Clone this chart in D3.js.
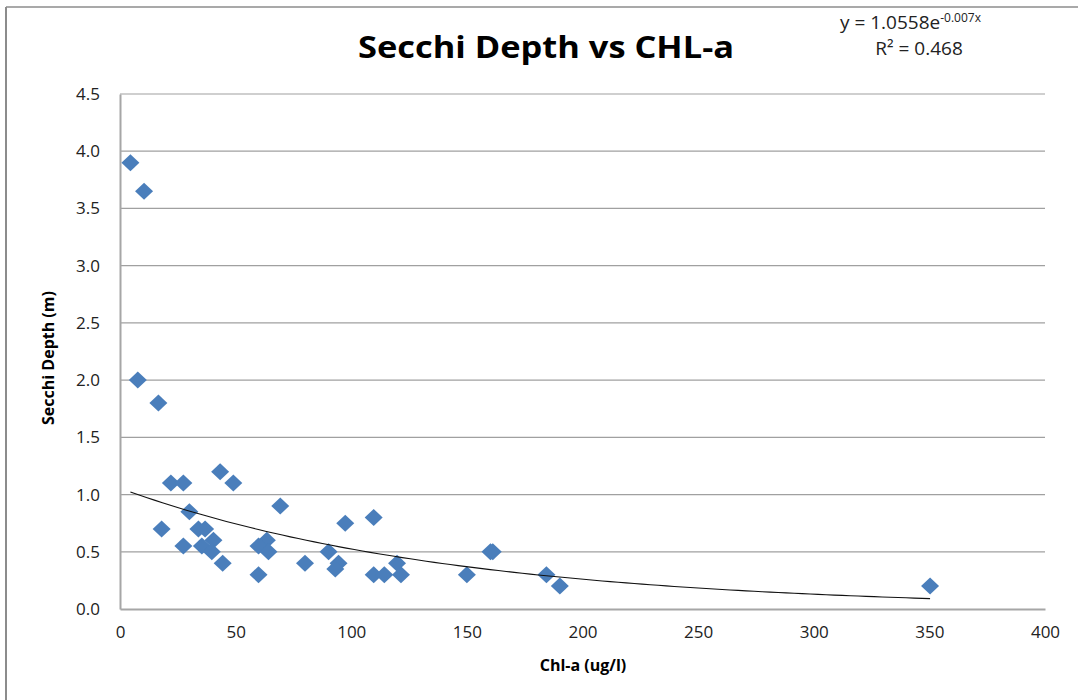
<!DOCTYPE html>
<html>
<head>
<meta charset="utf-8">
<script src="https://cdn.jsdelivr.net/npm/d3@7/dist/d3.min.js"></script>
<style>
  html, body { margin: 0; padding: 0; background: #fff; }
  svg { display: block; }
  text { font-family: "Open Sans", "DejaVu Sans", sans-serif; }
</style>
</head>
<body>
<svg id="chart" width="1078" height="700"></svg>
<script>
// ---- Data ----
const chlA = [4.5, 10.4, 7.7, 16.6, 22, 27.4, 43.3, 49, 30, 18, 33.9, 36.8, 27.4, 35.4, 40.4, 39.7, 44.4,
              69.3, 63.5, 59.9, 64.2, 59.9, 80, 90.2, 94.5, 93.1, 97.4, 109.7, 109.7, 114.3, 119.8, 121.5,
              150, 160.2, 161.2, 184.4, 190.2, 350.3];
const secchi = [3.9, 3.65, 2.0, 1.8, 1.1, 1.1, 1.2, 1.1, 0.85, 0.7, 0.7, 0.7, 0.55, 0.55, 0.6, 0.5, 0.4,
                0.9, 0.6, 0.55, 0.5, 0.3, 0.4, 0.5, 0.4, 0.35, 0.75, 0.8, 0.3, 0.3, 0.4, 0.3,
                0.3, 0.5, 0.5, 0.3, 0.2, 0.2];
const xTicks = [0, 50, 100, 150, 200, 250, 300, 350, 400];
const yTicks = [0, 0.5, 1.0, 1.5, 2.0, 2.5, 3.0, 3.5, 4.0, 4.5];
// Exponential trendline as printed on the chart: y = a * e^(b x)
const trendA = 1.0558;
const trendB = -0.007;
const rSquared = "0.468";
const titleText = "Secchi Depth vs CHL-a";
const xTitle = "Chl-a (ug/l)";
const yTitle = "Secchi Depth (m)";

(function () {
const points = chlA.map((x, i) => ({ x, y: secchi[i] }));

const svg = d3.select("#chart");

// Outer chart border (top and left visible)
svg.append("line").attr("x1", 6).attr("y1", 7).attr("x2", 1078).attr("y2", 7)
  .attr("stroke", "#8c8c8c").attr("stroke-width", 1.5);
svg.append("line").attr("x1", 6).attr("y1", 7).attr("x2", 6).attr("y2", 700)
  .attr("stroke", "#8c8c8c").attr("stroke-width", 2);

const pLeft = 120, pRight = 1045, pTop = 94, pBottom = 609;
const x = d3.scaleLinear().domain([0, 400]).range([pLeft, pRight]);
const y = d3.scaleLinear().domain([0, 4.5]).range([pBottom, pTop]);

// Gridlines
svg.append("g").selectAll("line").data(yTicks.filter(d => d > 0)).join("line")
  .attr("x1", pLeft).attr("x2", pRight)
  .attr("y1", d => y(d)).attr("y2", d => y(d))
  .attr("stroke", "#a0a0a0").attr("stroke-width", 1.2);

// Axes
const xAxis = svg.append("g").attr("transform", `translate(0,${pBottom})`)
  .call(d3.axisBottom(x).tickValues(xTicks).tickSize(0).tickPadding(17).tickFormat(d3.format("d")));
const yAxis = svg.append("g").attr("transform", `translate(${pLeft},0)`)
  .call(d3.axisLeft(y).tickValues(yTicks).tickSize(0).tickPadding(20).tickFormat(d3.format(".1f")));
[xAxis, yAxis].forEach(g => {
  g.select(".domain").attr("stroke", "#a6a6a6").attr("stroke-width", 2);
  g.selectAll("text").attr("font-size", 17).attr("fill", "#222")
    .style("font-family", '"Open Sans", sans-serif');
});

// Trendline from the printed equation, over the data's x range
const xMin = d3.min(chlA), xMax = d3.max(chlA);
const trend = d3.range(0, 101).map(i => {
  const xv = xMin + (xMax - xMin) * i / 100;
  return { x: xv, y: trendA * Math.exp(trendB * xv) };
});

// Points (diamonds)
svg.append("g").selectAll("path").data(points).join("path")
  .attr("transform", d => `translate(${x(d.x)},${y(d.y)})`)
  .attr("d", "M0,-8.5 L9,0 L0,8.5 L-9,0 Z")
  .attr("fill", "#4a7ebb");

svg.append("path").datum(trend)
  .attr("d", d3.line().x(d => x(d.x)).y(d => y(d.y)))
  .attr("fill", "none").attr("stroke", "#111").attr("stroke-width", 1.1);

// Title
svg.append("text").attr("x", 546).attr("y", 58).attr("text-anchor", "middle")
  .attr("font-size", 31).attr("font-weight", "bold").attr("fill", "#000")
  .attr("textLength", 376).attr("lengthAdjust", "spacingAndGlyphs")
  .text(titleText);

// Equation
const eq = svg.append("text").attr("x", 840).attr("y", 29).attr("font-size", 19).attr("fill", "#222");
eq.append("tspan").text("y = " + trendA + "e");
eq.append("tspan").attr("dy", -7).attr("font-size", 12).text(trendB + "x");
svg.append("text").attr("x", 919).attr("y", 55).attr("text-anchor", "middle")
  .attr("font-size", 19).attr("fill", "#222").text("R² = " + rSquared);

// Axis titles
svg.append("text").attr("x", 583).attr("y", 671).attr("text-anchor", "middle")
  .attr("font-size", 16).attr("font-weight", "bold").attr("fill", "#000")
  .text(xTitle);
svg.append("text").attr("transform", "translate(54,358) rotate(-90)").attr("text-anchor", "middle")
  .attr("font-size", 16).attr("font-weight", "bold").attr("fill", "#000")
  .text(yTitle);
})();
</script>
</body>
</html>
